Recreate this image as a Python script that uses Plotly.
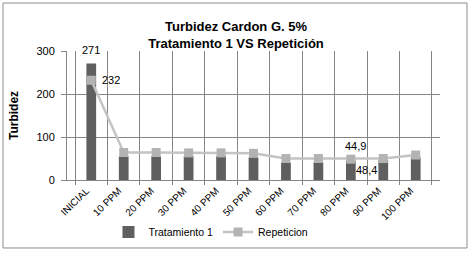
import plotly.graph_objects as go

categories = ["INICIAL", "10 PPM", "20 PPM", "30 PPM", "40 PPM", "50 PPM",
              "60 PPM", "70 PPM", "80 PPM", "90 PPM", "100 PPM"]
tratamiento = [271, 55, 55, 56, 56, 53, 40, 41, 44.9, 46, 53]
repeticion = [232, 64, 64, 63, 63, 62, 50, 50, 48.4, 50, 58]
y_ticks = [0, 100, 200, 300]

FONT = "Liberation Sans, Arial, sans-serif"

def fmt(v):
    s = f"{v:g}"
    return s.replace(".", ",")

fig = go.Figure()
fig.add_trace(go.Bar(
    x=categories, y=tratamiento, name="Tratamiento 1",
    marker=dict(color="#5f5f5f", line=dict(width=0)),
))
fig.add_trace(go.Scatter(
    x=categories, y=repeticion, name="Repeticion", mode="lines+markers",
    line=dict(color="#c4c4c4", width=2.5),
    marker=dict(symbol="square", size=9, color="#b3b3b3"),
))

annotations = [
    dict(x=categories[0], y=tratamiento[0], text=fmt(tratamiento[0]), yshift=13, xshift=0),
    dict(x=categories[0], y=repeticion[0], text=fmt(repeticion[0]), xshift=20, yshift=0),
    dict(x=categories[8], y=tratamiento[8], text=fmt(tratamiento[8]), xshift=5, yshift=15),
    dict(x=categories[8], y=repeticion[8], text=fmt(repeticion[8]), xshift=16, yshift=-11),
]
for a in annotations:
    a.update(xref="x", yref="y", showarrow=False,
             font=dict(family=FONT, size=11, color="#000000"))

fig.update_layout(
    width=472, height=253,
    margin=dict(l=67, r=32, t=51, b=73, autoexpand=False),
    paper_bgcolor="white", plot_bgcolor="white",
    bargap=0.7,
    title=dict(
        text="<b>Turbidez Cardon G. 5%<br>Tratamiento 1 VS Repetición</b>",
        x=0.5, xref="container", xanchor="center",
        y=0.878, yref="container", yanchor="top",
        font=dict(family=FONT, size=13, color="#000000"),
    ),
    font=dict(family=FONT, size=11, color="#000000"),
    showlegend=True,
    legend=dict(
        orientation="h", x=0.386, xanchor="center",
        y=0.083, yref="container", yanchor="middle",
        font=dict(family=FONT, size=10.5, color="#000000"),
        bgcolor="rgba(0,0,0,0)", itemwidth=30,
    ),
    annotations=annotations,
    shapes=[dict(type="rect", xref="paper", yref="paper",
                 x0=-0.1716, x1=1.0724, y0=-0.527, y1=1.372,
                 line=dict(color="#8c8c8c", width=1))],
)
fig.update_xaxes(
    type="category", tickson="boundaries", showgrid=True, automargin=False,
    gridcolor="#868686", gridwidth=1,
    ticks="outside", ticklen=4, tickcolor="#868686", ticklabelshift=-5,
    showline=True, linecolor="#868686", linewidth=1,
    tickangle=-45, tickfont=dict(family=FONT, size=10, color="#000000"),
)
fig.update_yaxes(
    range=[0, 300], tickvals=y_ticks, showgrid=True, automargin=False,
    gridcolor="#868686", gridwidth=1, zeroline=False,
    showline=True, linecolor="#868686", linewidth=1,
    ticks="outside", ticklen=5, tickcolor="#868686", ticklabelstandoff=4,
    tickfont=dict(family=FONT, size=11, color="#000000"),
    title=dict(text="<b>Turbidez</b>", standoff=15,
               font=dict(family=FONT, size=12, color="#000000")),
)

fig.write_html("out.html", config={"displayModeBar": False},
               post_script="document.body.style.margin='0';")
